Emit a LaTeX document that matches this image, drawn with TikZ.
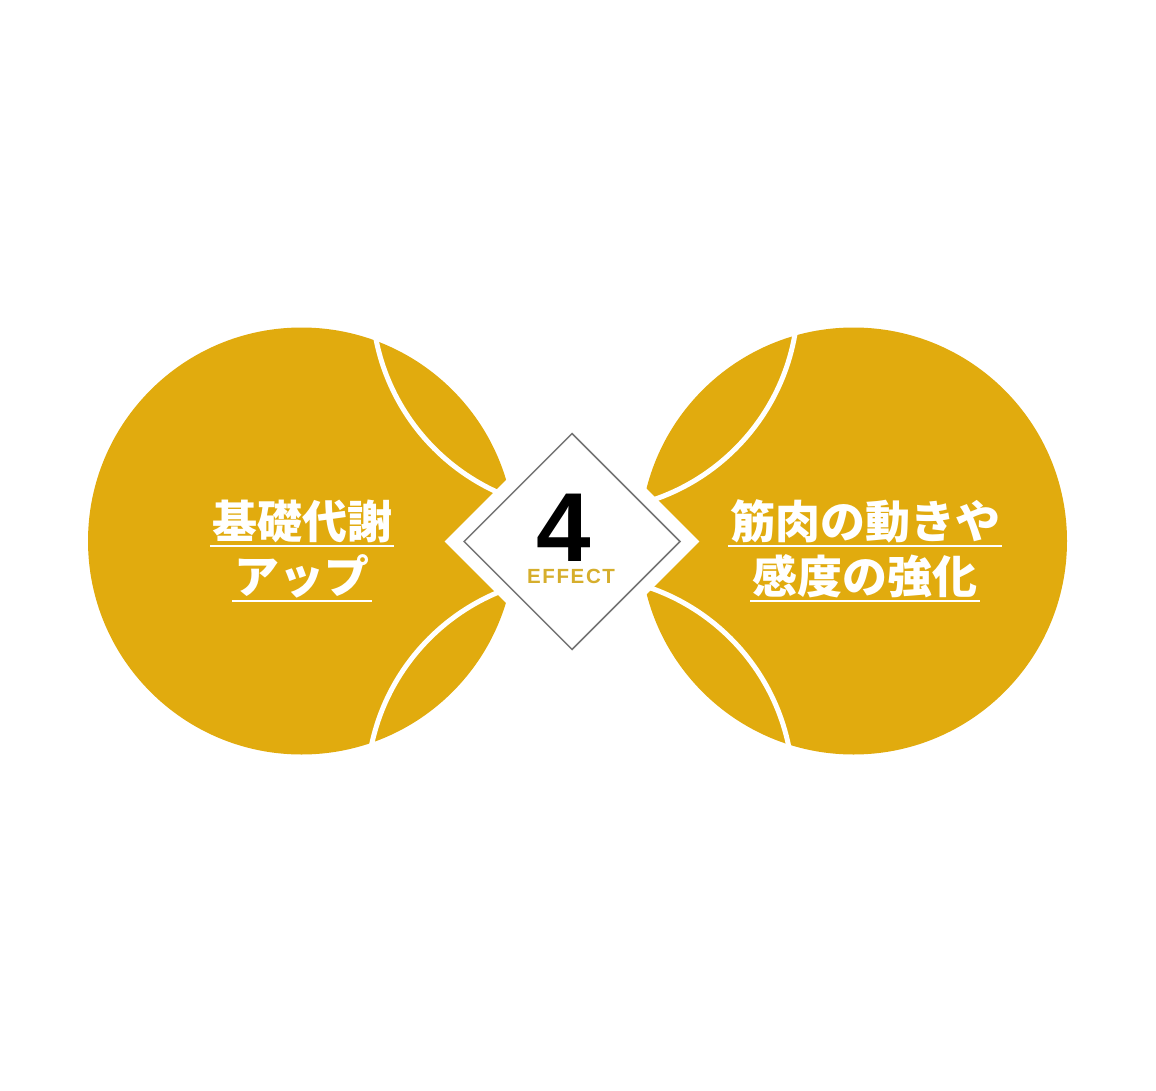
\documentclass[tikz,border=0pt]{standalone}
\usepackage{fontspec}
\usepackage{xcolor}
\usetikzlibrary{positioning,shapes.geometric}
\newfontfamily\jp{Noto Sans CJK JP}
\newfontfamily\numfont{Liberation Sans}
\newfontfamily\fxfont{Liberation Sans}[LetterSpace=8]
\definecolor{gold}{HTML}{E1AB0E}
\definecolor{fxgold}{HTML}{D6AE2C}
\definecolor{rim}{HTML}{747474}

\begin{document}
\begin{tikzpicture}[x=1pt,y=-1pt,node distance=55pt,
    ball/.style={circle,fill=gold,minimum size=427pt,inner sep=0pt},
    ring/.style={circle,draw=white,line width=5pt,minimum size=426pt,inner sep=0pt},
    tag/.style={text=white,font=\jp\bfseries\fontsize{45}{45}\selectfont,inner xsep=2pt,inner ysep=0pt,text height=39.6pt,text depth=5.4pt},
    uline/.style={white,line width=2pt}]
    \useasboundingbox (0,0) rectangle (1156,1091);

    \node[ball] (1) at (301.5,541) {};
    \node[ball] (2) at (853.5,541) {};
    \node[ring] (3) at (585,298) {};
    \node[ring] (4) at (580,789) {};

    \node[diamond,fill=white,minimum size=255pt,inner sep=0pt] (5) at (572,541.5) {};
    \node[diamond,fill=white,draw=rim,line width=1.5pt,minimum size=216.5pt,inner sep=0pt] (6) at (572,541.5) {};

    \node[tag] (7) at (302,521.5) {基礎代謝};
    \node[tag] (8) [below of = 7] {アップ};
    \node[tag] (9) at (865,521.5) {筋肉の動きや};
    \node[tag] (10) [below of = 9] {感度の強化};

    \node[font=\numfont\bfseries\fontsize{98}{98}\selectfont,inner sep=0pt,text height=70pt,text depth=0pt] (11) at (563.5,526.7) {4};
    \node[text=fxgold,font=\fxfont\bfseries\fontsize{20.5}{20.5}\selectfont,inner sep=0pt,text height=15pt,text depth=0pt] (12) at (571,576.3) {EFFECT};

    \path[uline]
        ([yshift=-1.5pt]7.south west) edge ([yshift=-1.5pt]7.south east)
        ([yshift=-1.5pt]8.south west) edge ([yshift=-1.5pt]8.south east)
        ([yshift=-1.5pt]9.south west) edge ([yshift=-1.5pt]9.south east)
        ([yshift=-1.5pt]10.south west) edge ([yshift=-1.5pt]10.south east)
        ;
\end{tikzpicture}
\end{document}
